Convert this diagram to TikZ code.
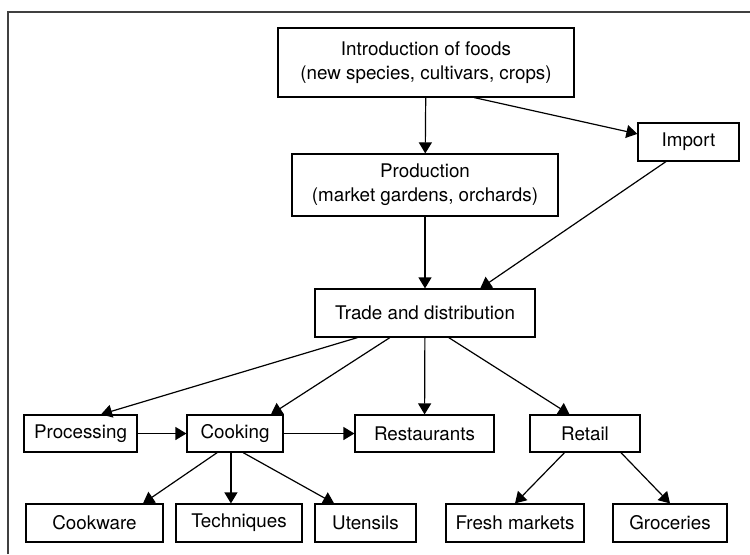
\documentclass[tikz,border=0pt]{standalone}
\usepackage{fontspec}
\setmainfont{TeX Gyre Heros}
\usetikzlibrary{arrows.meta}

\begin{document}
\begin{tikzpicture}[x=0.5pt, y=-0.5pt, font=\fontsize{9.4}{12}\selectfont]
	\tikzstyle{box}=[draw, line width=0.6pt, align=center, inner sep=0pt, minimum height=19pt]
	\tikzstyle{arr}=[line width=0.6pt, -{Triangle[length=5.5pt,width=6.5pt]}]
	
	\useasboundingbox (0,0) rectangle (750,554);
	\draw[line width=1pt, black!75] (8,554) -- (8,11.5) -- (750,11.5);
	
	\node[box, minimum width=148pt, minimum height=34.5pt](intro) at (426,62.5) {Introduction of foods\\(new species, cultivars, crops)};
	\node[box, minimum width=133pt, minimum height=31pt](prod) at (425,185) {Production\\(market gardens, orchards)};
	\node[box, minimum width=50.5pt](import) at (688.5,142) {Import};
	\node[box, minimum width=110pt, minimum height=24pt](trade) at (425,313) {Trade and distribution};
	
	\node[box, minimum width=56.5pt, minimum height=18.5pt](proc) at (80.5,433.5) {Processing};
	\node[box, minimum width=48pt, minimum height=18.5pt](cook) at (235,433.5) {Cooking};
	\node[box, minimum width=69.5pt, minimum height=18.5pt](rest) at (424.5,433.5) {Restaurants};
	\node[box, minimum width=55pt, minimum height=18.5pt](retail) at (585,433.5) {Retail};
	
	\node[box, minimum width=68.5pt](cookware) at (94.5,523) {Cookware};
	\node[box, minimum width=63pt](tech) at (239,523) {Techniques};
	\node[box, minimum width=50.5pt](utensils) at (365.5,523) {Utensils};
	\node[box, minimum width=69pt](fresh) at (515,523) {Fresh markets};
	\node[box, minimum width=57pt](groc) at (670,523) {Groceries};
	
	\draw[arr] (intro) -- (prod);
	\draw[arr] (intro.-36) -- (import.171);
	\draw[arr] (prod) -- (trade);
	\draw[arr] (import.221) -- (trade.24);
	
	\draw[arr] (trade.200) -- (proc.43);
	\draw[arr] (trade.215) -- (cook.28);
	\draw[arr] (trade) -- (rest);
	\draw[arr] (trade.-46) -- (retail.129);
	\draw[arr] (proc) -- (cook);
	\draw[arr] (cook) -- (rest);
	
	\draw[arr] (cook.227) -- (cookware.22);
	\draw[arr] (cook.258) -- (cook.258 |- tech.north);
	\draw[arr] (cook.-67) -- (utensils.148);
	\draw[arr] (retail.223) -- (fresh.north);
	\draw[arr] (retail.-28) -- (groc.north);
\end{tikzpicture}
\end{document}
